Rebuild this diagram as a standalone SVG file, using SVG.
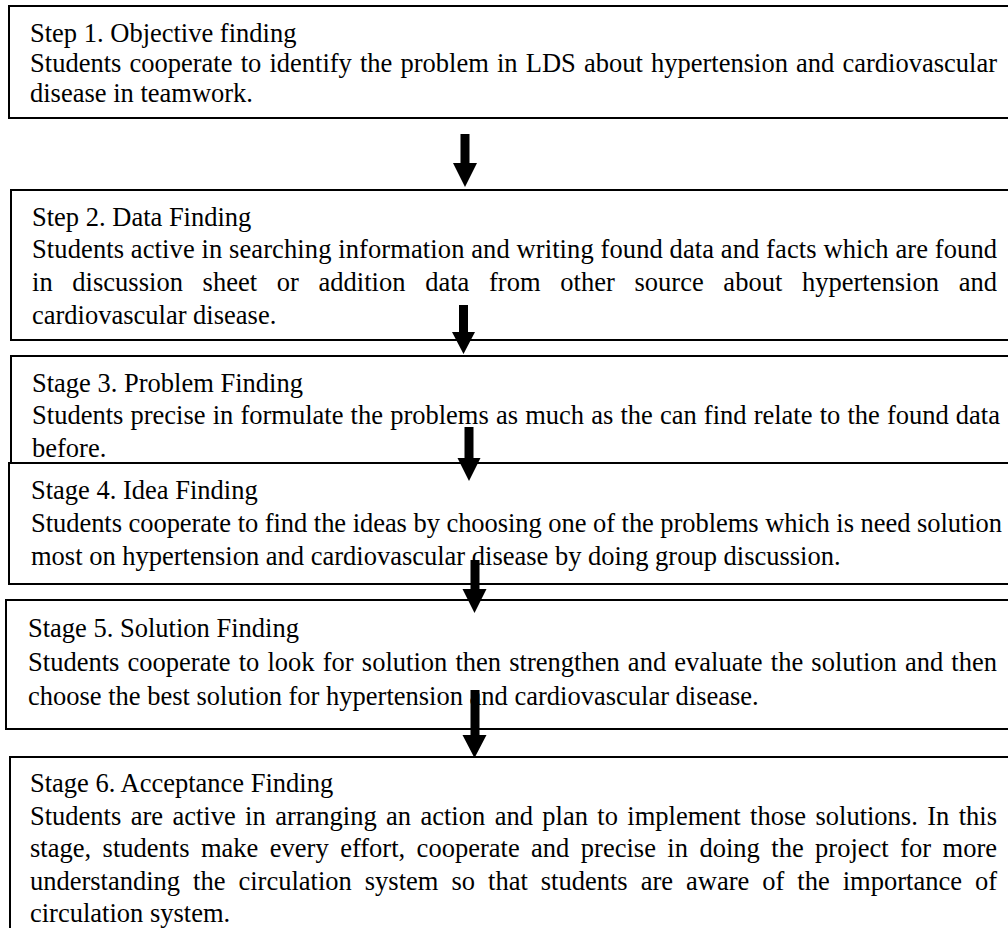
<svg xmlns="http://www.w3.org/2000/svg" width="1008" height="928" viewBox="0 0 1008 928">
<style>
.box{fill:#fff;stroke:#000;stroke-width:2}
.t{font-family:"Liberation Serif","Times New Roman",serif;font-size:26.5px;fill:#000}
.arr{fill:#000}
</style>
<rect width="1008" height="928" fill="#fff"/>
<g id="step1">
<rect class="box" x="9" y="6" width="1010" height="112"/>
<text class="t" x="30" y="42">Step 1. Objective finding</text>
<text class="t" x="30" y="72" word-spacing="1.5" textLength="967" lengthAdjust="spacing">Students cooperate to identify the problem in LDS about hypertension and cardiovascular</text>
<text class="t" x="30" y="102">disease in teamwork.</text>
</g>
<g id="step2">
<rect class="box" x="11" y="190" width="1010" height="150"/>
<text class="t" x="32" y="226">Step 2. Data Finding</text>
<text class="t" x="32" y="258" textLength="965" lengthAdjust="spacing">Students active in searching information and writing found data and facts which are found</text>
<text class="t" x="32" y="291" word-spacing="13" textLength="965" lengthAdjust="spacing">in discussion sheet or addition data from other source about hypertension and</text>
<text class="t" x="32" y="324">cardiovascular disease.</text>
</g>
<g id="stage3">
<rect class="box" x="11" y="356" width="1010" height="107"/>
<text class="t" x="32" y="392">Stage 3. Problem Finding</text>
<text class="t" x="32" y="424" word-spacing="0.5" textLength="968" lengthAdjust="spacing">Students precise in formulate the problems as much as the can find relate to the found data</text>
<text class="t" x="32" y="457">before.</text>
</g>
<g id="stage4">
<rect class="box" x="9" y="463" width="1010" height="121"/>
<text class="t" x="31" y="499">Stage 4. Idea Finding</text>
<text class="t" x="31" y="532" textLength="971" lengthAdjust="spacing">Students cooperate to find the ideas by choosing one of the problems which is need solution</text>
<text class="t" x="31" y="565">most on hypertension and cardiovascular disease by doing group discussion.</text>
</g>
<g id="stage5">
<rect class="box" x="6" y="600" width="1010" height="129"/>
<text class="t" x="28" y="637">Stage 5. Solution Finding</text>
<text class="t" x="28" y="671" word-spacing="1.5" textLength="969" lengthAdjust="spacing">Students cooperate to look for solution then strengthen and evaluate the solution and then</text>
<text class="t" x="28" y="705">choose the best solution for hypertension and cardiovascular disease.</text>
</g>
<g id="stage6">
<rect class="box" x="10" y="757" width="1010" height="200"/>
<text class="t" x="30" y="792">Stage 6. Acceptance Finding</text>
<text class="t" x="30" y="825" word-spacing="2.8" textLength="967" lengthAdjust="spacing">Students are active in arranging an action and plan to implement those solutions. In this</text>
<text class="t" x="30" y="857" word-spacing="4.8" textLength="967" lengthAdjust="spacing">stage, students make every effort, cooperate and precise in doing the project for more</text>
<text class="t" x="30" y="890" word-spacing="6.4" textLength="967" lengthAdjust="spacing">understanding the circulation system so that students are aware of the importance of</text>
<text class="t" x="30" y="922">circulation system.</text>
</g>
<g id="connectors">
<polygon class="arr" points="460.5,134 469.5,134 469.5,163 477,163 465,187 453,163 460.5,163"/>
<polygon class="arr" points="459,305 468,305 468,332 475,332 463.5,354 452,332 459,332"/>
<polygon class="arr" points="464.5,427 473.5,427 473.5,458 480.5,458 469,481 457.5,458 464.5,458"/>
<polygon class="arr" points="470.5,560 479.5,560 479.5,589 486.5,589 474.5,613 462.5,589 470.5,589"/>
<polygon class="arr" points="470.5,690 479.5,690 479.5,735 486.5,735 474.5,758 462.5,735 470.5,735"/>
</g>
</svg>
